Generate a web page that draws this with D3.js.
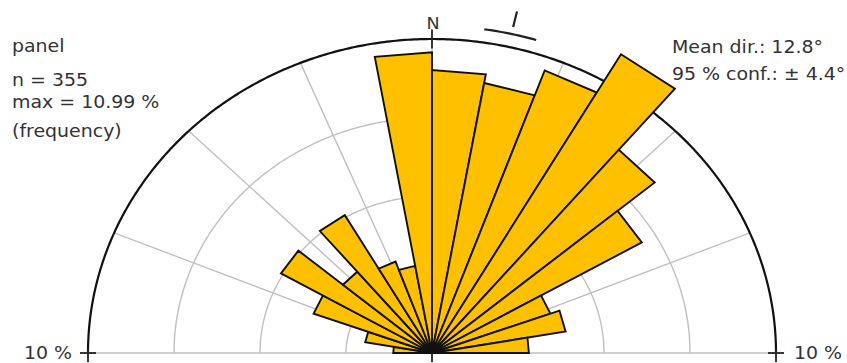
<!DOCTYPE html>
<html>
<head>
<meta charset="utf-8">
<script src="https://cdn.jsdelivr.net/npm/d3@7"></script>
<style>
  html, body { margin: 0; padding: 0; background: #fff; }
  svg { display: block; }
  text { font-family: "DejaVu Sans", sans-serif; fill: #333; }
</style>
</head>
<body>
<svg id="chart" width="847" height="363"></svg>
<script>
// Orientation classes (10° bins from -90° to 90°) and counts per class
const binStarts = [-90, -80, -70, -60, -50, -40, -30, -20, -10, 0, 10, 20, 30, 40, 50, 60, 70, 80];
const counts    = [4, 7, 13, 18, 12, 18, 11, 10, 34, 32, 31, 34, 39, 30, 25, 13, 14, 10];
const binWidth = 10;

// Rings and spokes
const ringLevels = [2.5, 5, 7.5];
const outerLevel = 10;
const spokeAngles = [-67.5, -45, -22.5, 0, 22.5, 45, 67.5];

// Summary statistics
const panelName = "panel";
const meanDir = 12.8;
const conf95 = 4.4;

const n = d3.sum(counts);
const freq = counts.map(c => c / n * 100);
const maxFreq = d3.max(freq);

const svg = d3.select("#chart");
const cx = 432, cy = 353;
// horizontal and vertical radius scales (the figure is wider than tall)
const rX = d3.scaleLinear().domain([0, outerLevel]).range([0, 344]);
const rY = d3.scaleLinear().domain([0, outerLevel]).range([0, 314]);
const stretch = 344 / 314;
const rad = d => d * Math.PI / 180;
const pt = (deg, v) => [cx + rX(v) * Math.sin(rad(deg)), cy - rY(v) * Math.cos(rad(deg))];
const arcPath = (v, a0, a1) => {
  const pts = d3.range(a0, a1 + 0.01, 0.5).map(a => pt(a, v));
  return d3.line()(pts);
};

const gridColor = "#c0c0c0";
const grid = svg.append("g");

// baseline
grid.append("line")
  .attr("x1", pt(-90, outerLevel)[0]).attr("y1", cy)
  .attr("x2", pt(90, outerLevel)[0]).attr("y2", cy)
  .attr("stroke", gridColor).attr("stroke-width", 1.4);

// spokes
grid.selectAll("line.spoke").data(spokeAngles).join("line")
  .attr("class", "spoke")
  .attr("x1", cx).attr("y1", cy)
  .attr("x2", d => pt(d, outerLevel)[0]).attr("y2", d => pt(d, outerLevel)[1])
  .attr("stroke", gridColor).attr("stroke-width", 1.4);

// rings
grid.selectAll("path.ring").data(ringLevels).join("path")
  .attr("class", "ring")
  .attr("d", d => arcPath(d, -90, 90))
  .attr("fill", "none").attr("stroke", gridColor).attr("stroke-width", 1.4);

// outer circle
svg.append("path")
  .attr("d", arcPath(outerLevel, -90, 90))
  .attr("fill", "none").attr("stroke", "#111").attr("stroke-width", 2.2);

// petals: straight-edged wedges
svg.append("g").selectAll("path").data(binStarts).join("path")
  .attr("d", (a, i) => {
    const p0 = pt(a, freq[i]), p1 = pt(a + binWidth, freq[i]);
    return `M${cx},${cy}L${p0[0]},${p0[1]}L${p1[0]},${p1[1]}Z`;
  })
  .attr("fill", "#ffc000")
  .attr("stroke", "#111")
  .attr("stroke-width", 1.9)
  .attr("stroke-linejoin", "miter");

// ticks
const ticks = svg.append("g").attr("stroke", "#222").attr("stroke-width", 1.8);
[-90, 90].forEach(a => {
  const x = pt(a, outerLevel)[0];
  ticks.append("line").attr("x1", x - 8).attr("x2", x + 8).attr("y1", cy).attr("y2", cy);
  ticks.append("line").attr("x1", x).attr("x2", x).attr("y1", cy - 4).attr("y2", cy + 9);
});
ticks.append("line").attr("x1", cx).attr("x2", cx).attr("y1", cy).attr("y2", cy + 9);
{
  const a = pt(0, 9.7), b = pt(0, 10.3);
  ticks.append("line").attr("x1", a[0]).attr("y1", a[1]).attr("x2", b[0]).attr("y2", b[1]);
}

// mean direction and confidence arc
svg.append("path")
  .attr("d", arcPath(10.42, meanDir - conf95, meanDir + conf95))
  .attr("fill", "none").attr("stroke", "#222").attr("stroke-width", 2.2);
{
  const a = pt(meanDir, 10.65), b = pt(meanDir, 11.15);
  svg.append("line").attr("x1", a[0]).attr("y1", a[1]).attr("x2", b[0]).attr("y2", b[1])
    .attr("stroke", "#222").attr("stroke-width", 2.2);
}

// text
const label = (x, y, s, size, anchor) => svg.append("text")
  .attr("transform", `translate(${x},${y}) scale(${stretch},1)`)
  .attr("font-size", size)
  .attr("text-anchor", anchor || "start")
  .text(s);

label(12, 52, panelName, 17.3);
label(12, 86, `n = ${n}`, 17.3);
label(12, 108, `max = ${maxFreq.toFixed(2)} %`, 17.3);
label(12, 137, "(frequency)", 17.3);
label(672, 53, `Mean dir.: ${meanDir}°`, 17.3);
label(672, 80, `95 % conf.: ± ${conf95}°`, 17.3);
label(pt(0, outerLevel)[0] + 1, 29, "N", 16, "middle");
label(pt(-90, outerLevel)[0] - 16, 359, `${outerLevel} %`, 17.3, "end");
label(pt(90, outerLevel)[0] + 18, 359, `${outerLevel} %`, 17.3, "start");
</script>
</body>
</html>
